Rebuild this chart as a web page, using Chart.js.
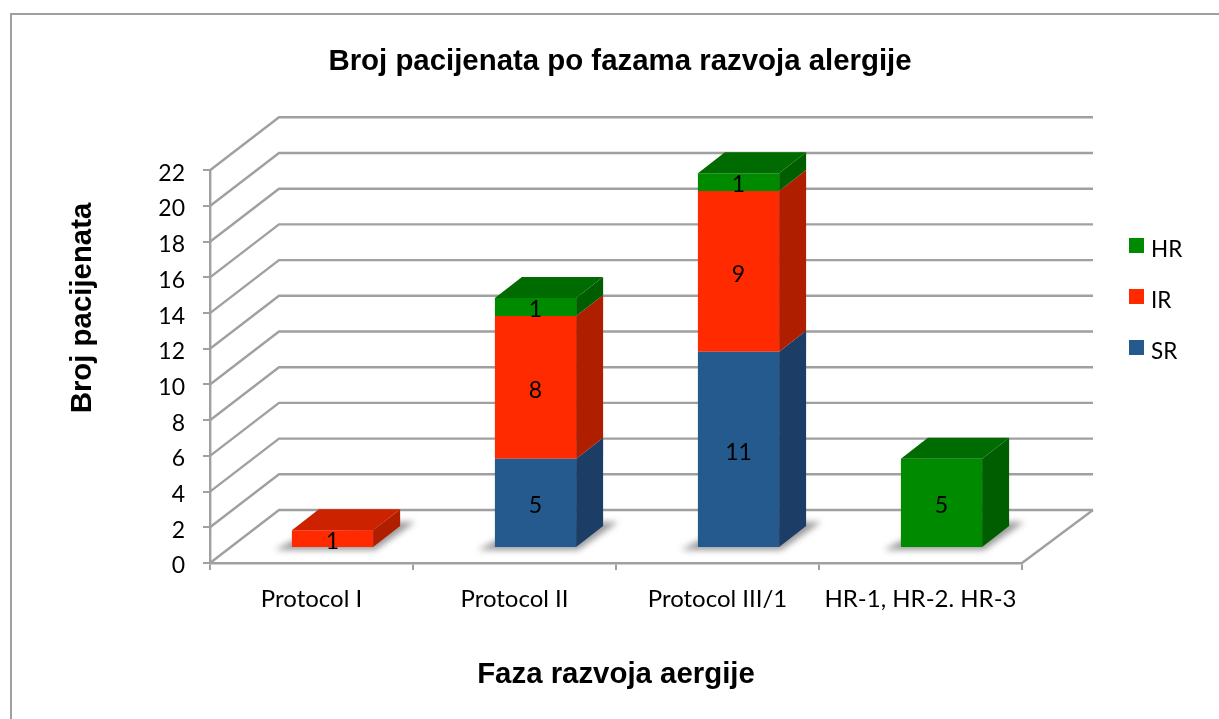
<!DOCTYPE html>
<html>
<head>
<meta charset="utf-8">
<style>html,body{margin:0;padding:0;background:#fff}#w{width:1219px;height:719px;position:relative}canvas{display:block}</style>
<script src="https://cdn.jsdelivr.net/npm/chart.js@4"></script>
</head>
<body>
<div id="w"><canvas id="c" width="1219" height="719"></canvas></div>
<script>
const categories = ["Protocol I", "Protocol II", "Protocol III/1", "HR-1, HR-2. HR-3"];
const srValues = [null, 5, 11, null];
const irValues = [1, 8, 9, null];
const hrValues = [null, 1, 1, 5];
const seriesNames = ["SR", "IR", "HR"];
const frontColors = ["#255A8F", "#FF2A00", "#008A00"];
const topColors = ["#1F4C79", "#CC2200", "#006B00"];
const sideColors = ["#1B3D66", "#B01E00", "#005E00"];
const titleText = "Broj pacijenata po fazama razvoja alergije";
const yTitleText = "Broj pacijenata";
const xTitleText = "Faza razvoja aergije";

const GRID = "#A0A0A0";
const WALL = {dx: 69, dxRight: 71, dy: -53};
const SHIFT = {dx: 21, dy: -15};
const DEPTH = {dx: 27, dy: -21};
const TEXT = "Lato";
const BOLD = {family: "Liberation Sans", size: 29.4, weight: "bold"};

const poly = (ctx, pts, fill) => {
  ctx.beginPath();
  pts.forEach((p, i) => i ? ctx.lineTo(p[0], p[1]) : ctx.moveTo(p[0], p[1]));
  ctx.closePath();
  ctx.fillStyle = fill;
  ctx.fill();
};

const threeD = {
  id: "threeD",
  beforeDraw(chart) {
    const ctx = chart.ctx;
    ctx.save();
    ctx.fillStyle = "#fff";
    ctx.fillRect(0, 0, chart.width, chart.height);
    ctx.strokeStyle = "#A0A0A0";
    ctx.lineWidth = 2;
    ctx.beginPath();
    ctx.moveTo(11, 719);
    ctx.lineTo(11, 14);
    ctx.lineTo(1219, 14);
    ctx.stroke();
    // legend, top entry first
    ctx.font = "22.5px " + TEXT;
    ctx.textAlign = "left";
    ctx.textBaseline = "middle";
    seriesNames.slice().reverse().forEach((name, i) => {
      const k = seriesNames.length - 1 - i;
      ctx.fillStyle = frontColors[k];
      ctx.fillRect(1129, 238 + 51 * i, 15, 15);
      ctx.fillStyle = "#000";
      ctx.fillText(name, 1151, 250 + 51 * i);
    });
    // vertical axis title, centred where the reference has it
    ctx.save();
    ctx.translate(83, 308);
    ctx.rotate(-Math.PI / 2);
    ctx.textAlign = "center";
    ctx.font = "bold " + BOLD.size + "px '" + BOLD.family + "'";
    ctx.fillText(yTitleText, 0, 0);
    ctx.restore();
    ctx.restore();
  },
  beforeDatasetsDraw(chart) {
    const ctx = chart.ctx, y = chart.scales.y, a = chart.chartArea;
    ctx.save();
    ctx.strokeStyle = GRID;
    ctx.lineWidth = 2.4;
    y.ticks.forEach(t => {
      const py = y.getPixelForValue(t.value);
      ctx.beginPath();
      ctx.moveTo(a.left, py);
      ctx.lineTo(a.left + WALL.dx, py + WALL.dy);
      ctx.lineTo(a.right + WALL.dxRight, py + WALL.dy);
      ctx.stroke();
    });
    const py0 = y.getPixelForValue(0);
    ctx.beginPath();
    ctx.moveTo(a.right, py0);
    ctx.lineTo(a.right + WALL.dxRight, py0 + WALL.dy);
    ctx.stroke();
    // soft shadows on the floor under each column
    ctx.filter = "blur(3px)";
    categories.forEach((_, i) => {
      let el = null;
      chart.data.datasets.forEach((d, k) => {
        if (d.data[i] != null && !el) el = chart.getDatasetMeta(k).data[i];
      });
      if (!el) return;
      const l = el.x - el.width / 2 + SHIFT.dx, r = el.x + el.width / 2 + SHIFT.dx, b = el.base + SHIFT.dy;
      poly(ctx, [[l - 17, b + 3], [r + 2, b + 3], [r + 42, b - 25], [r + 20, b - 25], [l, b - 6]], "#9A9A9A");
    });
    ctx.filter = "none";
    ctx.restore();
    ctx.save();
    ctx.translate(SHIFT.dx, SHIFT.dy);
  },
  afterDatasetsDraw(chart) {
    const ctx = chart.ctx, ds = chart.data.datasets;
    ds.forEach((d, k) => {
      chart.getDatasetMeta(k).data.forEach((el, i) => {
        if (d.data[i] == null) return;
        const l = el.x - el.width / 2, r = el.x + el.width / 2, t = el.y, b = el.base;
        poly(ctx, [[r, t], [r + DEPTH.dx, t + DEPTH.dy], [r + DEPTH.dx, b + DEPTH.dy], [r, b]], sideColors[k]);
        const topmost = !ds.slice(k + 1).some(o => o.data[i] != null);
        if (topmost) poly(ctx, [[l, t], [l + DEPTH.dx, t + DEPTH.dy], [r + DEPTH.dx, t + DEPTH.dy], [r, t]], topColors[k]);
      });
    });
    ctx.fillStyle = "#000";
    ctx.font = "23px " + TEXT;
    ctx.textAlign = "center";
    ctx.textBaseline = "middle";
    ds.forEach((d, k) => {
      chart.getDatasetMeta(k).data.forEach((el, i) => {
        if (d.data[i] == null) return;
        ctx.fillText(String(d.data[i]), el.x, (el.y + el.base) / 2 + 3);
      });
    });
    ctx.restore();
  }
};

new Chart(document.getElementById("c"), {
  type: "bar",
  data: {
    labels: categories,
    datasets: [srValues, irValues, hrValues].map((v, k) => ({
      label: seriesNames[k],
      data: v,
      backgroundColor: frontColors[k],
      borderWidth: 0,
      clip: false,
      categoryPercentage: 0.4,
      barPercentage: 1
    }))
  },
  plugins: [threeD],
  options: {
    responsive: false,
    animation: false,
    layout: {padding: {left: 21, right: 0, top: 0, bottom: 0}},
    plugins: {
      tooltip: {enabled: false},
      legend: {display: false},
      title: {
        display: true,
        text: titleText,
        color: "#000",
        font: BOLD,
        padding: {top: 44, bottom: 91}
      }
    },
    scales: {
      x: {
        stacked: true,
        offset: true,
        grid: {drawOnChartArea: false, drawTicks: true, tickLength: 7, color: GRID, lineWidth: 2, offset: true},
        border: {color: GRID, width: 2.4},
        ticks: {color: "#000", font: {family: TEXT, size: 24}, padding: 15, maxRotation: 0, autoSkip: false},
        title: {display: true, text: xTitleText, color: "#000", font: BOLD, padding: {top: 20, bottom: 26}},
        afterFit(s) { s.height = 156; }
      },
      y: {
        stacked: true,
        min: 0,
        max: 22,
        grid: {drawOnChartArea: false, drawTicks: true, tickLength: 7, color: GRID, lineWidth: 2},
        border: {color: GRID, width: 2.4},
        ticks: {stepSize: 2, color: "#000", font: {family: TEXT, size: 23}, padding: 18, labelOffset: 3},
        afterFit(s) { s.width = 189; }
      },
      spacer: {
        position: "right",
        grid: {display: false},
        border: {display: false},
        ticks: {display: false},
        afterFit(s) { s.width = 197; }
      }
    }
  }
});
</script>
</body>
</html>
